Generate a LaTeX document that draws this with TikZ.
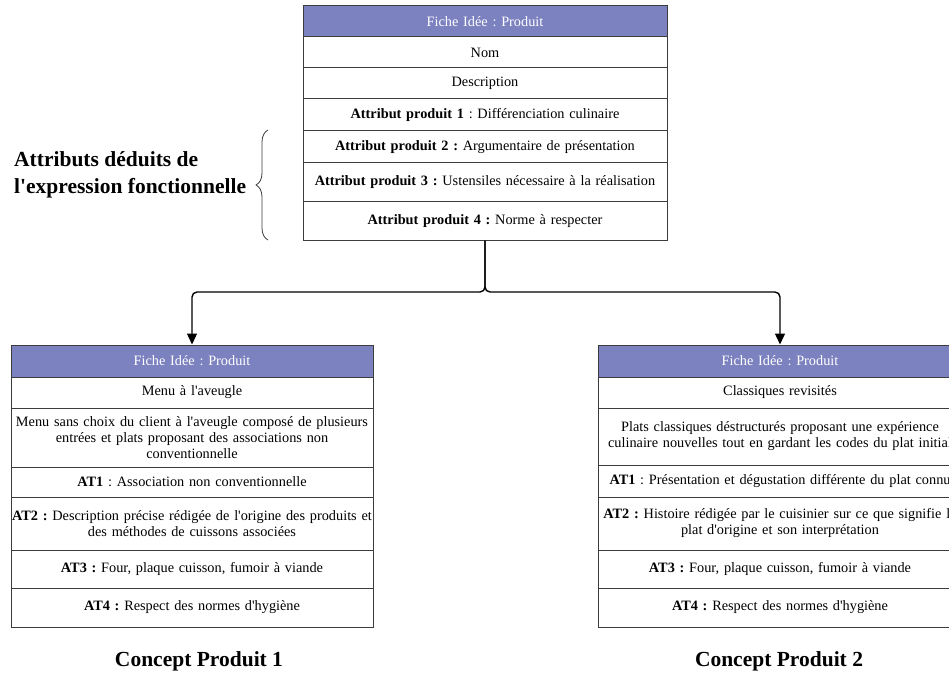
\documentclass[tikz,border=0pt]{standalone}
\usepackage{fontspec}
\setmainfont{Liberation Serif}
\usetikzlibrary{arrows.meta,decorations.pathreplacing}
\definecolor{hdr}{RGB}{124,129,191}
\definecolor{bord}{RGB}{60,60,60}
\newcommand\qs{\textquotesingle}
\frenchspacing
\begin{document}
\frenchspacing
\begin{tikzpicture}[x=1pt,y=-1pt,
  row/.style={draw=bord, line width=1pt, inner sep=0pt, align=center,
    font=\fontsize{14.3}{16}\selectfont},
  hdrrow/.style={row, fill=hdr, text=white},
  topw/.style={minimum width=364pt, text width=364pt},
  leftw/.style={minimum width=362pt, text width=362pt},
  conn/.style={line width=1.4pt, rounded corners=5pt, -{Triangle[width=10pt,length=11pt]}},
  bigtitle/.style={inner sep=0pt, font=\bfseries\fontsize{21.5}{27}\selectfont}]
\useasboundingbox (0,0) rectangle (949,676);

% top table
\node[hdrrow, topw, minimum height=31pt] (th) at (485,21.5) {Fiche Idée : Produit};
\node[row, topw, minimum height=31pt] (tn) at (485,52.5) {Nom};
\node[row, topw, minimum height=31pt] (td) at (485,83.5) {Description};
\node[row, topw, minimum height=32pt] (t1) at (485,115) {\textbf{Attribut produit 1} : Différenciation culinaire};
\node[row, topw, minimum height=32pt] (t2) at (485,147) {\textbf{Attribut produit 2 :} Argumentaire de présentation};
\node[row, topw, minimum height=39pt] (t3) at (485,182.5) {\textbf{Attribut produit 3 :} Ustensiles nécessaire à la réalisation};
\node[row, topw, minimum height=38pt] (t4) at (485,221) {\textbf{Attribut produit 4 :} Norme à respecter};

% left table
\node[hdrrow, leftw, minimum height=32pt] (lh) at (192,361) {Fiche Idée : Produit};
\node[row, leftw, minimum height=31pt] (ln) at (192,392.5) {Menu à l\qs aveugle};
\node[row, leftw, minimum height=59pt] (ld) at (192,437.5) {Menu sans choix du client à l\qs aveugle composé de plusieurs\\ entrées et plats proposant des associations non\\ conventionnelle};
\node[row, leftw, minimum height=30pt] (l1) at (192,482) {\textbf{AT1} : Association non conventionnelle};
\node[row, leftw, minimum height=53pt] (l2) at (192,523.5) {\textbf{AT2 :} Description précise rédigée de l\qs origine des produits et\\ des méthodes de cuissons associées};
\node[row, leftw, minimum height=38pt] (l3) at (192,569) {\textbf{AT3 :} Four, plaque cuisson, fumoir à viande};
\node[row, leftw, minimum height=39pt] (l4) at (192,607.5) {\textbf{AT4 :} Respect des normes d\qs hygiène};

% right table
\node[hdrrow, topw, minimum height=32pt] (rh) at (780,361) {Fiche Idée : Produit};
\node[row, topw, minimum height=31pt] (rn) at (780,392.5) {Classiques revisités};
\node[row, topw, minimum height=57pt] (rd) at (780,436.5) {Plats classiques déstructurés proposant une expérience\\ culinaire nouvelles tout en gardant les codes du plat initial};
\node[row, topw, minimum height=32pt] (r1) at (780,481) {\textbf{AT1} : Présentation et dégustation différente du plat connu};
\node[row, topw, minimum height=53pt] (r2) at (780,523.5) {\textbf{AT2 :} Histoire rédigée par le cuisinier sur ce que signifie le\\ plat d\qs origine et son interprétation};
\node[row, topw, minimum height=38pt] (r3) at (780,569) {\textbf{AT3 :} Four, plaque cuisson, fumoir à viande};
\node[row, topw, minimum height=39pt] (r4) at (780,607.5) {\textbf{AT4 :} Respect des normes d\qs hygiène};

% connectors
\coordinate (j) at (485,292);
\draw[conn] (t4.south) -- (j) -| (lh.north);
\draw[conn] (t4.south) -- (j) -| (rh.north);

% brace and its label
\draw[bord, line width=0.8pt, decorate, decoration={brace, amplitude=12pt}] (268,240) -- (268,130);
\node[bigtitle, anchor=west, align=left] (lab) at (14,175) {Attributs déduits de\\ l\qs expression fonctionnelle};

% concept titles
\node[bigtitle] (c1) at (199,661) {Concept Produit 1};
\node[bigtitle] (c2) at (779,661) {Concept Produit 2};
\end{tikzpicture}
\end{document}
